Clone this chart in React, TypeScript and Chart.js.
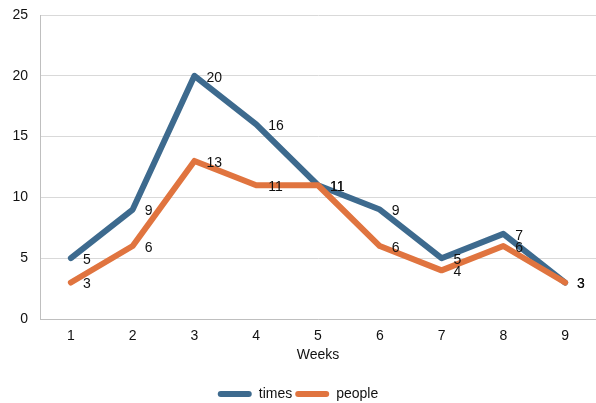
import React, { useEffect, useRef } from "react";
import { Chart, registerables } from "chart.js";

Chart.register(...registerables);

const weeks = ["1", "2", "3", "4", "5", "6", "7", "8", "9"];
const times = [5, 9, 20, 16, 11, 9, 5, 7, 3];
const people = [3, 6, 13, 11, 11, 6, 4, 6, 3];
const yTicks = [0, 5, 10, 15, 20, 25];

const BLUE = "#3d6a8e";
const ORANGE = "#e0743f";
const TEXT = "#111";
const FONT = "'Liberation Sans', Arial, sans-serif";

// Writes each point's value just to the right of it.
const valueLabels = {
  id: "valueLabels",
  afterDatasetsDraw(chart: any) {
    const ctx = chart.ctx;
    ctx.save();
    ctx.font = `14px ${FONT}`;
    ctx.fillStyle = TEXT;
    ctx.textAlign = "left";
    ctx.textBaseline = "middle";
    chart.data.datasets.forEach((ds: any, i: number) => {
      const meta = chart.getDatasetMeta(i);
      meta.data.forEach((pt: any, j: number) => {
        ctx.fillText(String(ds.data[j]), pt.x + 12, pt.y + 2);
      });
    });
    ctx.restore();
  },
};

export default function App() {
  const ref = useRef<HTMLCanvasElement>(null);

  useEffect(() => {
    if (!ref.current) return;
    const chart = new Chart(ref.current, {
      type: "line",
      data: {
        labels: weeks,
        datasets: [
          {
            label: "times",
            data: times,
            borderColor: BLUE,
            backgroundColor: BLUE,
            borderWidth: 6,
            pointRadius: 0,
            tension: 0,
            borderCapStyle: "round",
            borderJoinStyle: "round",
            order: 1,
          },
          {
            label: "people",
            data: people,
            borderColor: ORANGE,
            backgroundColor: ORANGE,
            borderWidth: 6,
            pointRadius: 0,
            tension: 0,
            borderCapStyle: "round",
            borderJoinStyle: "round",
            order: 0,
          },
        ],
      },
      options: {
        animation: false,
        responsive: false,
        maintainAspectRatio: false,
        layout: { padding: { top: 15, right: 0, left: 0, bottom: -8 } },
        plugins: {
          tooltip: { enabled: false },
          legend: {
            position: "bottom",
            labels: {
              color: TEXT,
              font: { family: FONT, size: 14 },
              boxWidth: 34,
              boxHeight: 6,
              padding: 3,
              useBorderRadius: true,
              borderRadius: 3,
              generateLabels: (c: any) =>
                c.data.datasets.map((ds: any, i: number) => ({
                  text: ds.label,
                  fillStyle: ds.borderColor,
                  strokeStyle: ds.borderColor,
                  fontColor: TEXT,
                  lineWidth: 0,
                  hidden: false,
                  datasetIndex: i,
                  borderRadius: 3,
                })),
            },
          },
        },
        scales: {
          x: {
            offset: true,
            grid: { display: false, drawTicks: false, offset: true },
            border: { display: true, color: "#bfbfbf", width: 1 },
            ticks: {
              color: TEXT,
              font: { family: FONT, size: 14 },
              padding: 9,
            },
            title: {
              display: true,
              text: "Weeks",
              color: TEXT,
              font: { family: FONT, size: 14 },
              padding: { top: 3, bottom: 20 },
            },
            afterFit: (s: any) => {
              s.height = 65;
            },
          },
          y: {
            min: 0,
            max: 25,
            afterBuildTicks: (s: any) => {
              s.ticks = yTicks.map((v) => ({ value: v }));
            },
            grid: { color: "#d9d9d9", drawTicks: false },
            border: { display: true, color: "#bfbfbf", width: 1 },
            ticks: {
              color: TEXT,
              font: { family: FONT, size: 14 },
              padding: 12,
            },
            afterFit: (s: any) => {
              s.width = 40;
              s.paddingTop = 0;
              s.paddingBottom = 0;
            },
          },
        },
      },
      plugins: [valueLabels],
    });
    return () => chart.destroy();
  }, []);

  return (
    <div style={{ position: "absolute", left: 0, top: 0, width: 596, height: 403, background: "#fff" }}>
      <canvas ref={ref} width={596} height={403} />
    </div>
  );
}
